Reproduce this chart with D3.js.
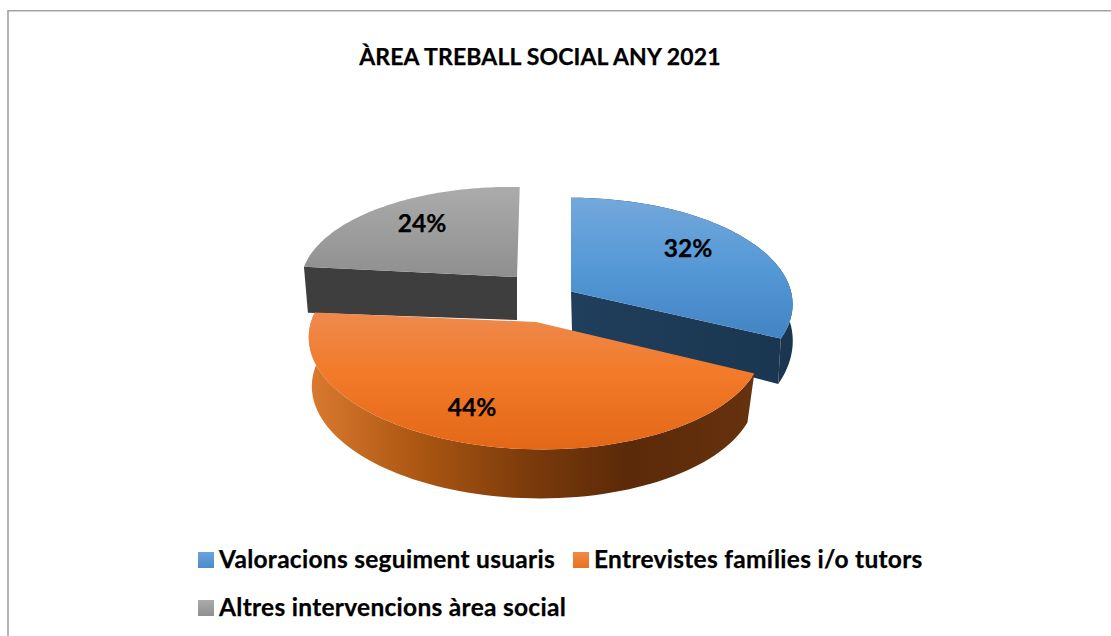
<!DOCTYPE html>
<html><head><meta charset="utf-8">
<script src="https://cdn.jsdelivr.net/npm/d3@7/dist/d3.min.js"></script>
<style>html,body{margin:0;background:#fff}svg{display:block}text{font-family:Lato,"Open Sans",sans-serif;font-weight:700;fill:#000;stroke:#000;stroke-width:.25px}</style>
</head><body><svg id="c" width="1111" height="636"></svg>
<script>
const titleText = "ÀREA TREBALL SOCIAL ANY 2021";
const categories = ["Valoracions seguiment usuaris","Entrevistes famílies i/o tutors","Altres intervencions àrea social"];
const values = [32,44,24];
const svg=d3.select("#c");
const defs=svg.append("defs");
function grad(id,stops,horizontal){
  const g=defs.append("linearGradient").attr("id",id).attr("x1",0).attr("y1",0).attr("x2",horizontal?1:0).attr("y2",horizontal?0:1);
  stops.forEach(s=>g.append("stop").attr("offset",s[0]).attr("stop-color",s[1]));
}
grad("topB",[[0,"#73a8dc"],[.5,"#5598d6"],[1,"#4284c4"]]);
grad("topO",[[0,"#ee8a4e"],[.45,"#f27a28"],[1,"#e36717"]]);
grad("topG",[[0,"#ababab"],[1,"#8f8f8f"]]);
grad("innerB",[[0,"#203f5c"],[1,"#1a3650"]],true);
grad("wallO",[[0,"#da7a30"],[.25,"#ab5612"],[.5,"#7a3a0b"],[.72,"#5b2a09"],[1,"#67320e"]],true);
grad("lgB",[[0,"#6aa3dc"],[1,"#4a8ccb"]]);
grad("lgO",[[0,"#f08a4a"],[1,"#ea701c"]]);
grad("lgG",[[0,"#ababab"],[1,"#8f8f8f"]]);

svg.append("path").attr("d","M8 636V10.75H1111").attr("fill","none").attr("stroke","#a3a3a3").attr("stroke-width",1.6);

const pie=d3.pie().sort(null).value(d=>d);
const arcs=pie(values);
// projection settings per slice: top rim and bottom rim of each exploded wedge
const proj=[
 {top:{cx:571,cy:291.5,R:220,Q:105,p:.12,s:0,t:0},bot:{cx:572,cy:331,R:220,Q:118,p:.12,s:8,t:0},topFill:"topB",wall:"#1a3650",inner:"innerB",label:[688,257]},
 {top:{cx:536,cy:322,R:224,Q:106,p:.168,s:0,t:3},bot:{cx:534,cy:371,R:219,Q:106,p:.168,s:0,t:3},topFill:"topO",wall:"wallO",inner:"#67320e",label:[472,416]},
 {top:{cx:517,cy:277,R:215,Q:99,p:.1,s:3,t:4},bot:{cx:517,cy:320,R:211,Q:99,p:.1,s:3,t:1},topFill:"topG",wall:"#3e3e3e",inner:"#3e3e3e",label:[422,232]}
];
const pt=(c,a)=>{const w=1/(1+c.p*Math.cos(a));return [c.cx+(c.R*Math.sin(a)+c.s*Math.cos(a))*w,c.cy+(-c.Q*Math.cos(a)+c.t*Math.sin(a))*w];};
const sample=(c,a0,a1)=>d3.range(0,81).map(i=>pt(c,a0+(a1-a0)*i/80));
const line=d3.line();
const fillOf=f=>f.startsWith("#")?f:`url(#${f})`;
[2,0,1].forEach(i=>{
  const d=arcs[i],c=proj[i],g=svg.append("g");
  const wall=sample(c.top,d.startAngle,d.endAngle).concat(sample(c.bot,d.endAngle,d.startAngle));
  if(i!==2) g.append("path").attr("d",line(wall)+"Z").attr("fill",fillOf(c.wall));
  if(i!==1){
    const edge=i===0?d.endAngle:d.startAngle;
    g.append("path").attr("d",line([[c.top.cx,c.top.cy],pt(c.top,edge),pt(c.bot,edge),[c.bot.cx,c.bot.cy]])+"Z").attr("fill",fillOf(c.inner));
  }
  const face=[[c.top.cx,c.top.cy]].concat(sample(c.top,d.startAngle,d.endAngle));
  g.append("path").attr("d",line(face)+"Z").attr("fill",fillOf(c.topFill));
});
const total=d3.sum(values);
proj.forEach((c,i)=>svg.append("text").attr("x",c.label[0]).attr("y",c.label[1]).attr("text-anchor","middle").attr("font-size",24.5).text(d3.format(".0%")(values[i]/total)));
svg.append("text").attr("x",540).attr("y",65).attr("text-anchor","middle").attr("font-size",23).attr("letter-spacing",.15).text(titleText);
const lg=[{x:198,y:552,tx:219,ty:567.5,f:"lgB"},{x:573,y:552,tx:594,ty:567.5,f:"lgO"},{x:198,y:600,tx:219,ty:616,f:"lgG"}];
lg.forEach((l,i)=>{
  svg.append("rect").attr("x",l.x).attr("y",l.y).attr("width",16).attr("height",16).attr("fill",`url(#${l.f})`);
  svg.append("text").attr("x",l.tx).attr("y",l.ty).attr("font-size",24.5).attr("letter-spacing",.28).text(categories[i]);
});
</script></body></html>
